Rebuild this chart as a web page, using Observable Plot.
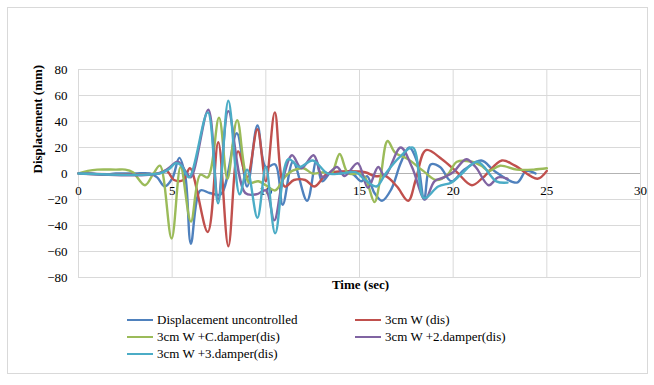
<!DOCTYPE html>
<html><head><meta charset="utf-8">
<script src="https://cdn.jsdelivr.net/npm/d3@7"></script>
<script src="https://cdn.jsdelivr.net/npm/@observablehq/plot@0.6"></script>
<style>
body{margin:0;background:#fff;font-family:"Liberation Serif","Times New Roman",serif;}
#wrap{position:relative;width:654px;height:385px;}
#frame{position:absolute;left:7px;top:7px;width:641px;height:367px;border:1px solid #d9d9d9;box-sizing:border-box;}
#chart{position:absolute;left:0;top:0;}
.leg{position:absolute;font-size:13px;color:#000;line-height:16px;white-space:nowrap;}
.leg .sw{display:inline-block;width:26px;height:2px;vertical-align:middle;margin-right:4px;position:relative;top:-1px;}
</style></head><body>
<div id="wrap"><div id="frame"></div><div id="chart"></div><div id="legend"></div></div>
<script>
// ---- data (time in sec, displacement in mm) ----
const seriesNames = [
  "Displacement uncontrolled",
  "3cm W (dis)",
  "3cm W +C.damper(dis)",
  "3cm W +2.damper(dis)",
  "3cm W +3.damper(dis)"
];
const seriesColors = ["#4F81BD", "#C0504D", "#9BBB59", "#8064A2", "#4BACC6"];
const xTicks = [0, 5, 10, 15, 20, 25, 30];
const yTicks = [-80, -60, -40, -20, 0, 20, 40, 60, 80];

const uncontrolled = [[0,0],[0.7,0],[1.3,-1],[2,0],[3,0],[3.8,0],[4.2,-3],[4.6,-10],[5.0,-4],[5.38,12],[5.7,-2],[6.0,-54],[6.5,-13],[7.0,-15],[7.6,-16],[8.45,31],[9.0,-10],[9.55,37],[10.0,5],[10.5,7],[10.9,-24],[11.45,9],[12.2,-21],[12.7,10],[13.0,-6],[13.5,1],[14.0,0],[14.6,0],[15.1,-6],[15.4,-2],[15.8,-15],[16.2,-21],[16.7,-12],[17.2,8],[17.65,20],[18.1,8],[18.45,-20],[18.8,7],[19.3,5],[19.9,-6],[20.6,3],[21.5,10],[22.2,2],[23.4,-7],[23.9,2],[24.4,0]];
const wall3cm = [[0,0],[4.2,0],[4.7,2],[5.1,-5],[5.6,-5],[5.95,4],[6.9,-45],[7.46,24],[8.0,-56],[8.52,17],[9.0,-3],[9.55,34],[10.0,-6],[10.48,47],[11.0,-10],[11.5,-5],[12.1,-5],[12.6,-10],[13.2,-1],[13.6,1],[15.3,1],[15.8,-2],[16.4,-2],[17.0,-10],[17.6,-21],[18.0,-5],[18.55,18],[19.4,11],[20.2,1],[21.0,-9],[21.6,-3],[22.6,10],[23.3,6],[24.5,-4],[25,2]];
const wallCDamper = [[0,0],[0.5,2],[1,3],[2,3],[2.5,3],[2.9,1],[3.55,-9],[4.0,0],[4.35,6],[4.97,-50],[5.45,5],[6.0,-37],[6.5,-1],[6.9,-3],[7.5,43],[7.95,-4],[8.47,41],[9.1,-7],[9.6,-6],[10.0,-9],[10.5,-13],[11.0,-3],[11.4,2],[12.0,4],[12.5,0],[13.1,1],[13.5,0],[13.94,15],[14.4,0],[15.0,0],[15.3,-3],[15.8,-22],[16.1,-5],[16.5,25],[16.9,16],[17.6,11],[18.4,2],[19.1,-5],[19.7,-1],[20.2,9],[21.0,9],[21.5,6],[21.9,2],[22.5,6],[23.4,3],[24.3,3],[25,4]];
const wall2Damper = [[0,0],[4.3,0],[4.8,4],[5.3,9],[5.75,1],[6.0,-3],[6.93,49],[7.45,-20],[8.0,48],[8.9,-15],[9.5,-16],[10.0,-13],[10.45,-36],[10.9,-5],[11.4,14],[11.9,4],[12.55,14],[13.05,-3],[13.8,5],[14.2,-2],[14.9,8],[15.45,-11],[16.0,5],[16.35,-2],[17.2,20],[17.8,5],[18.5,-20],[19.0,-6],[19.5,-3],[20.0,1],[20.7,11],[21.2,5],[21.9,-9],[22.4,-3],[22.9,-4]];
const wall3Damper = [[0,0],[4.3,0],[4.8,3],[5.2,8],[5.5,6],[5.9,-3],[6.9,47],[7.45,-23],[8.0,56],[8.6,-16],[9.0,3],[9.55,-34],[10.0,5],[10.5,-46],[11.2,11],[11.8,5],[12.5,10],[13.3,0],[14.0,0],[14.8,1],[15.3,-5],[15.9,-10],[16.4,0],[17.1,12],[17.85,20],[18.45,-19],[19.2,-10],[19.9,-7],[20.4,-1],[21.3,9],[22.3,-6],[22.9,-7]];

const seriesData = [uncontrolled, wall3cm, wallCDamper, wall2Damper, wall3Damper];
const rows = [];
seriesData.forEach((arr, i) => arr.forEach(([t, v]) => rows.push({series: seriesNames[i], t, v})));

const chart = Plot.plot({
  width: 654, height: 300,
  marginLeft: 78, marginRight: 14, marginTop: 69, marginBottom: 23,
  style: {fontFamily: "'Liberation Serif','Times New Roman',serif", fontSize: "13px", color: "#000", background: "transparent"},
  x: {domain: [0, 30], axis: null},
  y: {domain: [-80, 80]},
  color: {domain: seriesNames, range: seriesColors},
  marks: [
    Plot.ruleX(xTicks, {stroke: "#d9d9d9"}),
    Plot.ruleY(yTicks, {stroke: "#d9d9d9"}),
    Plot.ruleY([0], {stroke: "#b3b3b3"}),
    Plot.axisY(yTicks, {tickSize: 0, tickPadding: 11, label: null, fontSize: 13}),
    Plot.text(xTicks, {x: d => d, y: 0, dy: 17, fontSize: 13, fill: "#000"}),
    Plot.line(rows, {x: "t", y: "v", z: "series", stroke: "series", curve: "catmull-rom", strokeWidth: 2.4}),
    Plot.text(["Displacement (mm)"], {frameAnchor: "left", rotate: -90, dx: -41, fontWeight: "bold", fontSize: 13, fill: "#000"}),
    Plot.text(["Time (sec)"], {frameAnchor: "bottom", dy: 11, dx: 1, fontWeight: "bold", fontSize: 13, fill: "#000"})
  ]
});
document.getElementById("chart").appendChild(chart);

// legend
const legPos = [[127, 320], [355, 320], [127, 337], [355, 337], [127, 354]];
const legend = document.getElementById("legend");
seriesNames.forEach((name, i) => {
  const d = document.createElement("div");
  d.className = "leg";
  d.style.left = legPos[i][0] + "px";
  d.style.top = (legPos[i][1] - 8) + "px";
  const sw = document.createElement("span");
  sw.className = "sw";
  sw.style.background = seriesColors[i];
  d.appendChild(sw);
  d.appendChild(document.createTextNode(name));
  legend.appendChild(d);
});
</script></body></html>
